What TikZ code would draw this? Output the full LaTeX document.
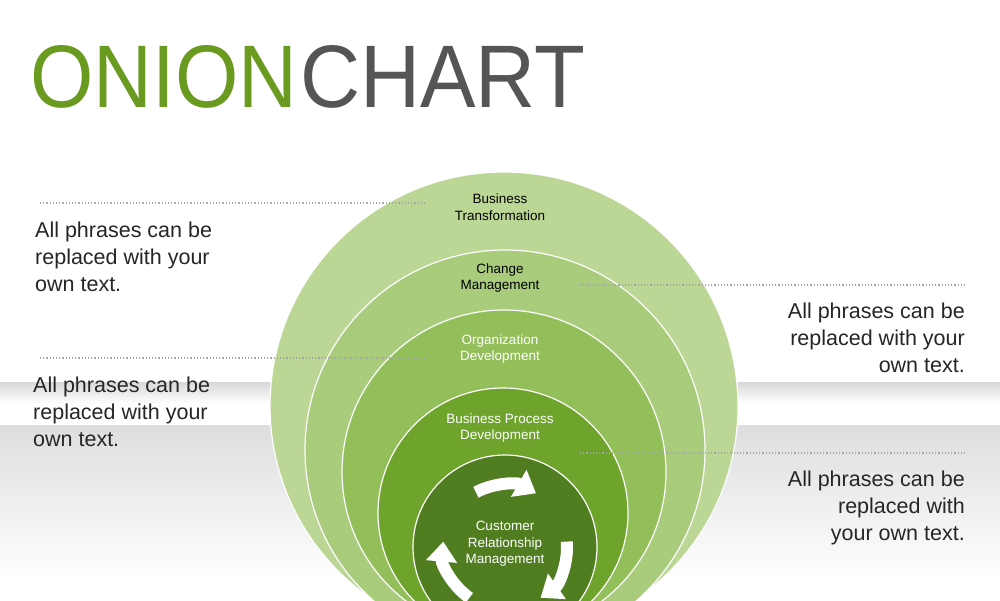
\documentclass[tikz,border=0pt]{standalone}
\usepackage{fontspec}
\setmainfont{Liberation Sans}
\usetikzlibrary{arrows.meta,calc}
\definecolor{c1}{HTML}{BCD696}
\definecolor{c2}{HTML}{A9CB7C}
\definecolor{c3}{HTML}{93BF5A}
\definecolor{c4}{HTML}{6EA42C}
\definecolor{c5}{HTML}{4F7D20}
\definecolor{tg}{HTML}{6A9A1F}
\definecolor{tgr}{HTML}{555555}
\begin{document}
\begin{tikzpicture}[x=1pt,y=-1pt,
  ring/.style={draw=white,line width=1.2pt},
  lab/.style={align=center,font=\fontsize{13.5}{16.5}\selectfont},
  body/.style={font=\fontsize{21.5}{27}\selectfont,text=black!85,inner sep=0pt},
  dots/.style={gray!70,dotted,line width=1.2pt},
  cyc/.style={white,line width=12pt,-{Triangle[length=20pt,width=30pt]}}]
\useasboundingbox (0,0) rectangle (1000,600);
\fill[white] (0,0) rectangle (1000,600);
\shade[top color=black!15,bottom color=white,middle color=white] (0,382) rectangle (1000,425);
\shade[top color=black!13,bottom color=white] (0,425) rectangle (1000,580);
\node[anchor=north west,inner sep=0pt,text=tg] (t1) at (30,45) {\resizebox{267pt}{62pt}{ONION}};
\node[anchor=north west,inner sep=0pt,text=tgr] (t2) at (300,45) {\resizebox{285pt}{62pt}{CHART}};
\begin{scope}
\clip (0,0) rectangle (1000,600);
\node[ring,fill=c1,circle,minimum size=468pt,inner sep=0pt] (o1) at (504,406) {};
\node[ring,fill=c2,circle,minimum size=400pt,inner sep=0pt] (o2) at (505,450) {};
\node[ring,fill=c3,circle,minimum size=324pt,inner sep=0pt] (o3) at (504,472) {};
\node[ring,fill=c4,circle,minimum size=250pt,inner sep=0pt] (o4) at (503,513) {};
\node[ring,fill=c5,circle,minimum size=184pt,inner sep=0pt] (o5) at (505,547) {};
\draw[cyc] ($(o5)+(-118:62)$) arc (-118:-60:62);
\draw[cyc] ($(o5)+(-5:62)$) arc (-5:55:62);
\draw[cyc] ($(o5)+(125:62)$) arc (125:185:62);
\end{scope}
\node[lab] (l1) at (500,207) {Business\\Transformation};
\node[lab] (l2) at (500,278) {Change\\Management};
\node[lab,text=white] (l3) at (500,349) {Organization\\Development};
\node[lab,text=white] (l4) at (500,428) {Business Process\\Development};
\node[lab,text=white] (l5) at (505,544) {Customer\\Relationship\\Management};
\coordinate (d1a) at (40,203); \coordinate (d1b) at (425,203);
\coordinate (d2a) at (580,285); \coordinate (d2b) at (965,285);
\coordinate (d3a) at (40,358); \coordinate (d3b) at (425,358);
\coordinate (d4a) at (580,453); \coordinate (d4b) at (965,453);
\draw[dots] (d1a) -- (d1b); \draw[dots] (d2a) -- (d2b);
\draw[dots] (d3a) -- (d3b); \draw[dots] (d4a) -- (d4b);
\node[body,anchor=north west,align=left] (b1) at (35,222) {All phrases can be\\replaced with your\\own text.};
\node[body,anchor=north west,align=left] (b2) at (33,377) {All phrases can be\\replaced with your\\own text.};
\node[body,anchor=north east,align=right] (b3) at (965,303) {All phrases can be\\replaced with your\\own text.};
\node[body,anchor=north east,align=right] (b4) at (965,471) {All phrases can be\\replaced with\\your own text.};
\end{tikzpicture}
\end{document}
